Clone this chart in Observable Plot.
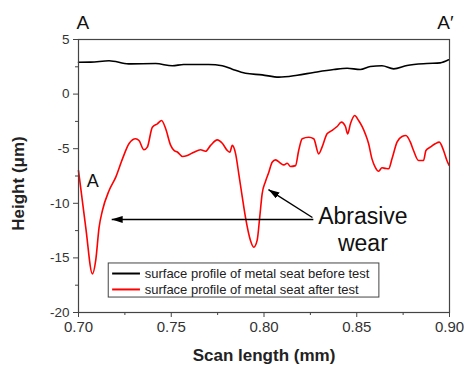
<!DOCTYPE html>
<html>
<head>
<meta charset="utf-8">
<script src="https://cdn.jsdelivr.net/npm/d3@7"></script>
<script src="https://cdn.jsdelivr.net/npm/@observablehq/plot@0.6"></script>
<style>
  html, body { margin: 0; padding: 0; background: #fff; }
  #chart { width: 464px; height: 367px; }
</style>
</head>
<body>
<div id="chart"></div>
<script>
// ---- data ----
const beforeX = [0.700,0.7066,0.7165,0.727,0.7416,0.7506,0.7567,0.7701,0.7775,0.7829,0.7900,0.7990,0.8080,0.8179,0.8268,0.8376,0.8448,0.8519,0.8573,0.8636,0.8699,0.8771,0.8878,0.8950,0.8995];
const beforeY = [2.92,2.93,3.05,2.77,2.80,2.59,2.71,2.71,2.60,2.28,1.91,1.76,1.55,1.73,1.98,2.25,2.37,2.25,2.53,2.59,2.31,2.62,2.80,2.86,3.14];

const afterX = [0.7000,0.7039,0.7075,0.7093,0.7111,0.7129,0.7165,0.7201,0.7237,0.7272,0.7308,0.7326,0.7353,0.7371,0.7398,0.7425,0.7448,0.7470,0.7497,0.7515,0.7533,0.7560,0.7587,0.7622,0.7658,0.7685,0.7712,0.7748,0.7775,0.7802,0.7816,0.7829,0.7847,0.7864,0.7883,0.7900,0.7927,0.7945,0.7963,0.7977,0.7990,0.8008,0.8026,0.8044,0.8062,0.8089,0.8107,0.8125,0.8143,0.8170,0.8187,0.8206,0.8241,0.8268,0.8295,0.8313,0.8340,0.8367,0.8394,0.8417,0.8439,0.8451,0.8466,0.8489,0.8510,0.8530,0.8546,0.8564,0.8582,0.8600,0.8618,0.8636,0.8654,0.8672,0.8690,0.8717,0.8744,0.8765,0.8789,0.8806,0.8833,0.8860,0.8873,0.8896,0.8923,0.8945,0.8968,0.8986,0.8998];
const afterY = [-7.0,-12.2,-16.46,-15.2,-12.2,-10.66,-8.83,-7.6,-5.93,-4.55,-4.09,-4.25,-5.1,-4.86,-3.03,-2.72,-2.42,-3.18,-4.7,-5.16,-5.3,-5.71,-5.62,-5.32,-5.1,-5.23,-4.7,-4.19,-4.5,-5.16,-5.32,-4.7,-5.47,-7.3,-9.44,-11.27,-13.4,-14.02,-13.4,-11.27,-9.13,-8.0,-7.15,-6.24,-6.02,-6.33,-6.48,-6.33,-6.63,-6.55,-5.16,-4.09,-3.95,-4.09,-5.47,-4.86,-3.64,-3.33,-2.97,-2.57,-2.97,-3.64,-2.72,-1.96,-2.42,-3.0,-3.64,-4.55,-5.93,-6.7,-7.06,-6.75,-6.8,-6.84,-5.93,-4.4,-3.88,-3.79,-4.4,-5.16,-6.08,-6.08,-5.16,-4.86,-4.55,-4.4,-5.16,-6.08,-6.54];

const xTicks = [0.70, 0.75, 0.80, 0.85, 0.90];
const xMinorTicks = [0.725, 0.775, 0.825, 0.875];
const yTicks = [-20, -15, -10, -5, 0, 5];
const yMinorTicks = [-17.5, -12.5, -7.5, -2.5, 2.5];

const xTitle = "Scan length (mm)";
const yTitle = "Height (\u03bcm)";
const seriesLabels = ["surface profile of metal seat before test", "surface profile of metal seat after test"];
const seriesColors = ["#000000", "#ff0000"];

// annotation anchors (data coordinates)
const sectionLabels = [{x: 0.7023, t: "A"}, {x: 0.8978, t: "A\u2032"}];
const pointLabel = {x: 0.7077, y: -8.0, t: "A"};
const wearLines = [{y: -11.85, t: "Abrasive"}, {y: -14.41, t: "wear"}];
const wearX = 0.8533;
const arrows = [
  {x1: 0.8266, y1: -11.48, x2: 0.7179, y2: -11.48},
  {x1: 0.8261, y1: -11.30, x2: 0.8024, y2: -8.74}
];
const legendBox = {x1: 0.7163, x2: 0.8622, y1: -15.51, y2: -18.63};
const legendRows = [-16.43, -17.89];
const legendSample = {x1: 0.7184, x2: 0.7334, tx: 0.7357};

const font = "'Liberation Sans', Arial, sans-serif";
const fmtY = d => `${d}`;

const svg = Plot.plot({
  width: 464,
  height: 367,
  marginLeft: 78,
  marginRight: 15,
  marginTop: 39,
  marginBottom: 55,
  style: {fontFamily: font, background: "#fff", overflow: "visible"},
  x: {domain: [0.70, 0.90]},
  y: {domain: [-20, 5]},
  marks: [
    Plot.axisX(xTicks, {tickSize: 5, tickPadding: 4, tickFormat: d3.format(".2f"), fontSize: 15, fill: "#333", stroke: "#444", label: null}),
    Plot.axisX(xMinorTicks, {tickSize: 3, tickFormat: () => "", stroke: "#444", label: null}),
    Plot.axisY(yTicks, {tickSize: 5, tickPadding: 4, tickFormat: fmtY, fontSize: 13.5, fill: "#333", stroke: "#444", label: null}),
    Plot.axisY(yMinorTicks, {tickSize: 3, tickFormat: () => "", stroke: "#444", label: null}),
    Plot.line(beforeY, {x: beforeX, y: beforeY, stroke: seriesColors[0], strokeWidth: 1.6, curve: "monotone-x"}),
    Plot.line(afterY, {x: afterX, y: afterY, stroke: seriesColors[1], strokeWidth: 1.6, curve: "monotone-x"}),
    Plot.frame({stroke: "#444", strokeWidth: 1.2}),
    // titles
    Plot.text([xTitle], {frameAnchor: "bottom", text: d => d, dy: 43, lineAnchor: "middle", textAnchor: "middle", fontSize: 17, fontWeight: "bold", fill: "#222"}),
    Plot.text([yTitle], {frameAnchor: "left", text: d => d, dx: -59.5, dy: 7.5, rotate: -90, textAnchor: "middle", lineAnchor: "middle", fontSize: 17, fontWeight: "bold", fill: "#222"}),
    // section labels
    Plot.text(sectionLabels, {x: "x", frameAnchor: "top", dy: -17, lineAnchor: "middle", text: "t", fontSize: 19, fill: "#111"}),
    Plot.text([pointLabel], {x: "x", y: "y", text: "t", fontSize: 18, fill: "#111"}),
    // abrasive wear annotation
    Plot.text(wearLines, {x: () => wearX, y: "y", text: "t", fontSize: 23, lineAnchor: "bottom", fill: "#111"}),
    Plot.link(arrows, {x1: "x1", y1: "y1", x2: "x2", y2: "y2", stroke: "#000", strokeWidth: 1.4}),
    // legend
    Plot.rect([legendBox], {x1: "x1", x2: "x2", y1: "y1", y2: "y2", fill: "#fff", stroke: "#444", strokeWidth: 1}),
    Plot.ruleY(legendRows, {y: d => d, x1: () => legendSample.x1, x2: () => legendSample.x2, stroke: (d, i) => seriesColors[i], strokeWidth: 2}),
    Plot.text(legendRows, {y: d => d, x: () => legendSample.tx, text: (d, i) => seriesLabels[i], textAnchor: "start", fontSize: 13, fill: "#222"})
  ]
});

// filled arrowheads for the annotation arrows
const sel = d3.select(svg);
const defs = sel.insert("defs", ":first-child");
defs.append("marker")
  .attr("id", "ah").attr("viewBox", "0 0 11 7").attr("refX", 11).attr("refY", 3.5)
  .attr("markerWidth", 11).attr("markerHeight", 7).attr("markerUnits", "userSpaceOnUse").attr("orient", "auto")
  .append("path").attr("d", "M0,0L11,3.5L0,7Z").attr("fill", "#000");
sel.selectAll('g[aria-label="link"] path').attr("marker-end", "url(#ah)");

document.getElementById("chart").appendChild(svg);
</script>
</body>
</html>
